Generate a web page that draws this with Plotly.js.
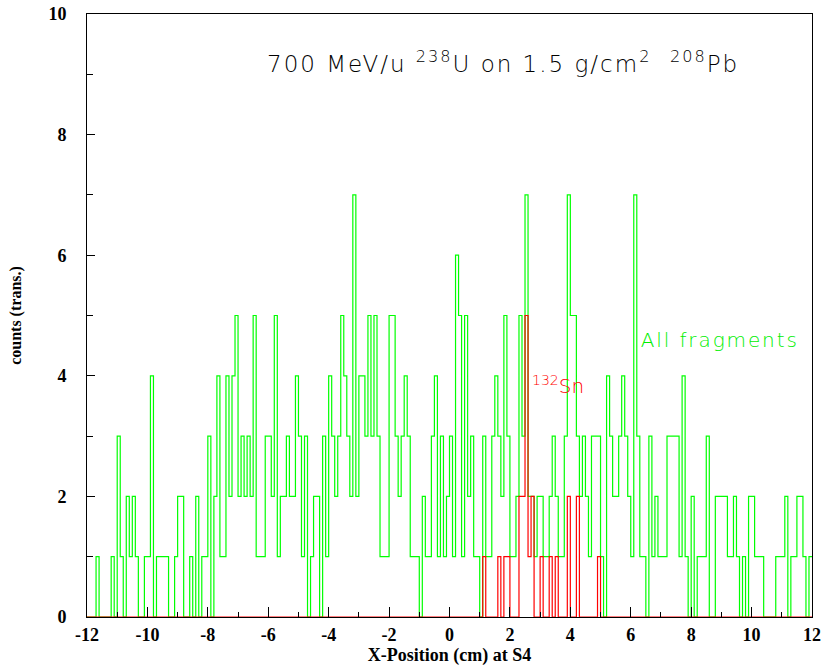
<!DOCTYPE html>
<html>
<head>
<meta charset="utf-8">
<script src="https://cdn.plot.ly/plotly-3.0.1.min.js"></script>
<style>
html,body{margin:0;padding:0;background:#fff;}
#chart{width:823px;height:666px;}
#chart g.annotation[data-index="0"] text{letter-spacing:2px;}
#chart g.annotation[data-index="1"] text{letter-spacing:1.9px;}
</style>
</head>
<body>
<div id="chart"></div>
<script>
// Histogram binning (cm)
const binStart = -12;
const binWidth = 0.1;

// All fragments counts per bin (240 bins from -12 to 12)
const allFragments = [
  0,0,0,1,0,0,0,0,1,0, 3,1,0,2,1,2,1,0,0,1,
  1,4,0,1,1,1,1,0,0,1, 2,2,0,0,1,0,2,0,1,1,
  3,0,2,4,1,1,4,2,4,5, 2,3,2,3,2,5,1,1,1,3,
  3,2,5,1,2,2,3,2,2,4, 3,1,3,0,1,2,2,0,3,1,
  4,3,2,3,5,4,3,2,7,2, 4,4,3,5,3,5,3,1,1,1,
  5,5,3,2,3,4,3,1,1,1, 0,2,1,1,3,4,1,3,1,2,
  3,1,6,5,1,5,2,3,1,1, 0,3,1,1,3,4,3,2,5,3,
  1,1,2,5,3,7,2,2,1,2, 2,1,1,2,3,2,1,1,3,7,
  5,5,3,2,3,2,1,3,3,3, 1,0,4,3,2,2,3,4,3,2,
  1,7,3,1,1,0,3,1,2,1, 1,1,3,3,3,3,1,4,1,0,
  2,0,1,1,1,3,0,0,2,2, 2,2,1,1,2,1,0,1,0,2,
  2,1,1,1,0,0,0,0,1,1, 1,2,0,1,1,2,2,1,0,1
];

// 132Sn counts per bin (240 bins from -12 to 12)
const sn132 = [
  0,0,0,0,0,0,0,0,0,0, 0,0,0,0,0,0,0,0,0,0,
  0,0,0,0,0,0,0,0,0,0, 0,0,0,0,0,0,0,0,0,0,
  0,0,0,0,0,0,0,0,0,0, 0,0,0,0,0,0,0,0,0,0,
  0,0,0,0,0,0,0,0,0,0, 0,0,0,0,0,0,0,0,0,0,
  0,0,0,0,0,0,0,0,0,0, 0,0,0,0,0,0,0,0,0,0,
  0,0,0,0,0,0,0,0,0,0, 0,0,0,0,0,0,0,0,0,0,
  0,0,0,0,0,0,0,0,0,0, 0,1,0,0,0,0,1,0,1,1,
  0,0,0,2,2,5,1,2,0,0, 1,0,0,1,0,1,0,0,0,2,
  0,0,2,0,0,0,0,0,0,1, 0,0,0,0,0,0,0,0,0,0,
  0,0,0,0,0,0,0,0,0,0, 0,0,0,0,0,0,0,0,0,0,
  0,0,0,0,0,0,0,0,0,0, 0,0,0,0,0,0,0,0,0,0,
  0,0,0,0,0,0,0,0,0,0, 0,0,0,0,0,0,0,0,0,0
];

const xTickVals = [-12,-10,-8,-6,-4,-2,0,2,4,6,8,10,12];
const xTickText = ['-12','-10','-8','-6','-4','-2','0','2','4','6','8','10','12'];
const yTickVals = [0,2,4,6,8,10];

function stepTrace(counts, color) {
  const xs = [], ys = [];
  for (let i = 0; i <= counts.length; i++) {
    xs.push(+(binStart + i * binWidth).toFixed(4));
    ys.push(counts[Math.min(i, counts.length - 1)]);
  }
  return {x: xs, y: ys, type: 'scatter', mode: 'lines',
          line: {shape: 'hv', color: color, width: 1.2},
          hoverinfo: 'skip', showlegend: false, cliponaxis: true};
}

const serifBold = {family: 'Liberation Serif, Times New Roman, serif', size: 18, color: '#000', weight: 'bold'};

const layout = {
  width: 823, height: 666,
  margin: {l: 87, r: 11, t: 14, b: 49},
  paper_bgcolor: '#fff', plot_bgcolor: '#fff',
  showlegend: false,
  xaxis: {
    range: [-12, 12], tickvals: xTickVals, ticktext: xTickText, ticks: 'inside', ticklen: 10, tickcolor: '#000', tickwidth: 1,
    minor: {dtick: 1, ticks: 'inside', ticklen: 5, tickcolor: '#000'},
    showline: true, mirror: true, linecolor: '#000', linewidth: 1,
    showgrid: false, zeroline: false,
    tickfont: serifBold, ticklabelstandoff: 1,
    title: {text: 'X-Position (cm) at S4', font: {family: 'Liberation Serif, serif', size: 18, color: '#000', weight: 'bold'}, standoff: 5}
  },
  yaxis: {
    range: [0, 10], tickvals: yTickVals, ticks: 'inside', ticklen: 8, tickcolor: '#000', tickwidth: 1,
    minor: {dtick: 1, ticks: 'inside', ticklen: 6, tickcolor: '#000'},
    showline: true, mirror: true, linecolor: '#000', linewidth: 1,
    showgrid: false, zeroline: false,
    tickfont: serifBold, ticklabelstandoff: 16,
    title: {text: 'counts (trans.)', font: {family: 'Liberation Serif, serif', size: 16, color: '#000', weight: 'bold'}, standoff: 22}
  },
  annotations: [
    {xref: 'x', yref: 'y', x: -4.97, y: 9.2, xanchor: 'left', yanchor: 'middle', showarrow: false,
     text: '700 MeV/u <sup>238</sup>U on 1.5 g/cm<sup>2</sup>  <sup>208</sup>Pb',
     font: {family: 'DejaVu Sans, sans-serif', size: 23, color: '#000', weight: 300}},
    {xref: 'x', yref: 'y', x: 6.68, y: 4.6, xanchor: 'left', yanchor: 'middle', showarrow: false,
     text: 'All fragments', font: {family: 'DejaVu Sans, sans-serif', size: 20, color: '#00ee00', weight: 300}},
    {xref: 'x', yref: 'y', x: 2.65, y: 3.85, xanchor: 'left', yanchor: 'middle', showarrow: false,
     text: '<sup>132</sup>Sn', font: {family: 'DejaVu Sans, sans-serif', size: 20, color: '#ff0000', weight: 300}}
  ]
};

Plotly.newPlot('chart', [stepTrace(allFragments, '#00ff00'), stepTrace(sn132, '#ff0000')], layout,
  {staticPlot: true, displayModeBar: false});
</script>
</body>
</html>
